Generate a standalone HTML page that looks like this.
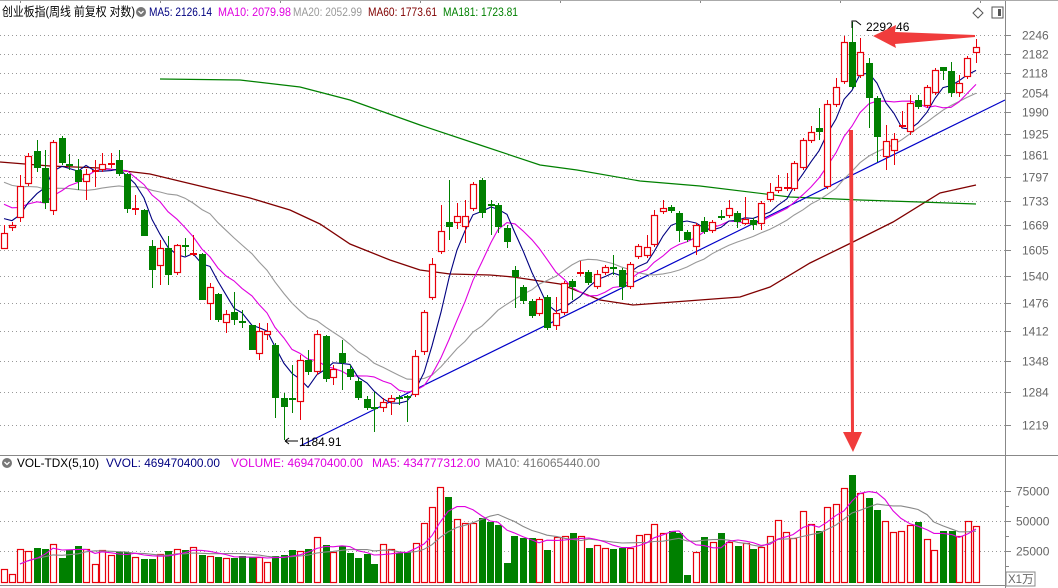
<!DOCTYPE html>
<html><head><meta charset="utf-8">
<style>
html,body{margin:0;padding:0;background:#fff;}
svg{display:block;font-family:"Liberation Sans","Noto Sans CJK SC",sans-serif;}
</style></head>
<body>
<svg id="c" width="1058" height="588" viewBox="0 0 1058 588" xmlns="http://www.w3.org/2000/svg">
<rect width="1058" height="588" fill="#fff"/>
<g id="grid"></g>
<g id="ma"></g>
<g id="candles"></g>
<g id="vol"></g>
<!-- frame -->
<line x1="1005.5" y1="0" x2="1005.5" y2="588" stroke="#888"/>
<line x1="0" y1="455.5" x2="1058" y2="455.5" stroke="#888"/>
<line x1="0" y1="585.5" x2="1005" y2="585.5" stroke="#888"/>
<line x1="0" y1="0.5" x2="1058" y2="0.5" stroke="#aaa"/>
<!-- header -->
<text x="2" y="16" font-size="12.5" fill="#000" textLength="133" lengthAdjust="spacingAndGlyphs">创业板指(周线 前复权 对数)</text>
<circle cx="141" cy="12" r="5" fill="#777"/>
<path d="M138.5 11 L141 13.5 L143.5 11" stroke="#fff" stroke-width="1.3" fill="none"/>
<text x="149" y="16" font-size="12" fill="#000080" textLength="63" lengthAdjust="spacingAndGlyphs">MA5: 2126.14</text>
<text x="218" y="16" font-size="12" fill="#e000e0" textLength="73" lengthAdjust="spacingAndGlyphs">MA10: 2079.98</text>
<text x="293" y="16" font-size="12" fill="#999" textLength="69" lengthAdjust="spacingAndGlyphs">MA20: 2052.99</text>
<text x="368" y="16" font-size="12" fill="#800000" textLength="69" lengthAdjust="spacingAndGlyphs">MA60: 1773.61</text>
<text x="443" y="16" font-size="12" fill="#008000" textLength="75" lengthAdjust="spacingAndGlyphs">MA181: 1723.81</text>
<path d="M978 8 L983 13 L978 18 L973 13 Z" fill="none" stroke="#555"/>
<rect x="992" y="7" width="11" height="11" fill="none" stroke="#555"/>
<rect x="998" y="9" width="3" height="7" fill="#555"/>
<!-- vol header -->
<circle cx="7" cy="463" r="5" fill="#777"/>
<path d="M4.5 462 L7 464.5 L9.5 462" stroke="#fff" stroke-width="1.3" fill="none"/>
<text x="17" y="467" font-size="12" fill="#000" textLength="82" lengthAdjust="spacingAndGlyphs">VOL-TDX(5,10)</text>
<text x="106" y="467" font-size="12" fill="#000080" textLength="114" lengthAdjust="spacingAndGlyphs">VVOL: 469470400.00</text>
<text x="231" y="467" font-size="12" fill="#e000e0" textLength="132" lengthAdjust="spacingAndGlyphs">VOLUME: 469470400.00</text>
<text x="372" y="467" font-size="12" fill="#e000e0" textLength="108" lengthAdjust="spacingAndGlyphs">MA5: 434777312.00</text>
<text x="485" y="467" font-size="12" fill="#777" textLength="115" lengthAdjust="spacingAndGlyphs">MA10: 416065440.00</text>
<rect x="1006" y="572" width="29" height="14" fill="#fff" stroke="#888"/>
<text x="1008" y="583" font-size="11.5" fill="#666">X1万</text>
<!-- annotations -->
<path d="M852 28 L852 21 L856 21 L861 25" stroke="#000" fill="none"/>
<text x="866" y="31" font-size="12" fill="#000">2292.46</text>
<path d="M285 441 L298 441 M285 441 L289 438 M285 441 L289 444" stroke="#000" fill="none"/>
<text x="299" y="446" font-size="12" fill="#000">1184.91</text>
<!-- arrows -->
<path d="M873 36 L896 25 L895 32 L975 35 L975 37 L895 44 L896 48 Z" fill="#f03c3c"/>
<path d="M849 130 L853 130 L854 432 L862 432 L853 452 L843 432 L851 432 Z" fill="#f03c3c"/>
</svg>
<script>
(function(){
var NS="http://www.w3.org/2000/svg";
function el(p,t,a){var e=document.createElementNS(NS,t);for(var k in a)e.setAttribute(k,a[k]);p.appendChild(e);return e;}
var grid=document.getElementById('grid'),ma=document.getElementById('ma'),cg=document.getElementById('candles'),vg=document.getElementById('vol');
var lv=[[2246,34.7],[2182,54],[2118,73],[2054,92.7],[1990,112],[1925,133.7],[1861,155],[1797,177],[1733,200.7],[1669,225],[1605,250],[1540,276],[1476,303],[1412,331],[1348,361],[1284,392],[1219,425]];
lv.forEach(function(l){var y=Math.round(l[1])+0.5;
 el(grid,'line',{x1:0,y1:y,x2:1005,y2:y,stroke:'#999','stroke-dasharray':'1,3'});
 el(grid,'line',{x1:1005,y1:y,x2:1011,y2:y,stroke:'#888'});
 var t=el(grid,'text',{x:1022,y:y+4,'font-size':12,fill:'#666'});t.textContent=l[0];});
[[491,'75000'],[521,'50000'],[551,'25000']].forEach(function(l){var y=l[0]+0.5;
 el(grid,'line',{x1:0,y1:y,x2:1005,y2:y,stroke:'#999','stroke-dasharray':'1,3'});
 el(grid,'line',{x1:1005,y1:y,x2:1011,y2:y,stroke:'#888'});
 var t=el(grid,'text',{x:1016,y:y+4,'font-size':12,fill:'#666'});t.textContent=l[1];});
[506,536,566].forEach(function(y){el(grid,'line',{x1:1005,y1:y+.5,x2:1009,y2:y+.5,stroke:'#888'});});
[20,160,280,420,560,700,840,980].forEach(function(x){el(grid,'line',{x1:x+.5,y1:0,x2:x+.5,y2:3,stroke:'#888'});});
var C=[
[4,'r',233,249,225,249],[12,'r',225,228,222,231],[20,'r',186,218,175,222],[28,'r',156,184,153,186],[37,'g',151,168,140,172],[45,'g',168,203,150,209],[53,'r',142,211,140,215],[62,'g',138,163,136,165],[69,'g',164,166,154,170],[78,'g',170,182,159,190],[86,'r',174,182,169,200],[95,'r',170,172,160,187],[102,'r',164,170,153,172],[111,'r',163,165,153,168],[119,'g',160,174,150,176],[127,'g',174,209,173,213],[135,'r',208,210,195,215],[144,'g',210,236,209,236],[152,'g',246,270,240,288],[160,'r',248,266,240,285],[168,'g',248,275,236,285],[177,'r',245,273,244,275],[185,'g',245,247,238,256],[193,'r',253,255,235,256],[202,'g',254,300,253,300],[210,'r',287,304,283,320],[218,'g',294,320,293,322],[226,'r',314,323,310,333],[234,'g',312,320,292,325],[242,'g',321,323,310,328],[252,'g',325,350,325,350],[259,'r',331,354,323,360],[267,'r',331,335,323,340],[275,'g',345,398,343,418],[284,'g',398,407,393,440],[292,'g',398,400,365,413],[300,'r',360,402,355,420],[308,'g',360,372,350,375],[317,'r',334,372,330,375],[326,'g',336,379,335,382],[333,'r',369,378,365,385],[342,'g',353,363,340,390],[350,'g',369,377,365,380],[358,'g',381,398,378,400],[367,'g',399,408,396,410],[374,'g',407,409,392,432],[383,'r',402,408,398,412],[391,'r',398,402,395,415],[399,'g',397,399,395,405],[407,'g',396,398,395,422],[415,'r',356,395,350,397],[424,'r',312,352,310,355],[432,'r',264,298,258,300],[441,'r',231,252,205,254],[449,'g',222,227,180,240],[457,'r',216,223,203,229],[465,'r',216,227,200,243],[473,'r',184,209,182,211],[482,'g',180,213,178,218],[491,'g',204,206,200,235],[498,'g',205,227,203,233],[507,'g',228,242,225,248],[515,'g',270,277,266,308],[523,'g',287,301,285,304],[532,'g',301,316,299,318],[539,'r',299,314,297,316],[547,'g',297,328,295,330],[556,'r',313,326,297,330],[564,'r',283,313,281,315],[572,'g',281,287,279,300],[580,'r',272,274,261,276],[588,'g',272,283,270,285],[597,'r',274,287,270,289],[605,'r',267,273,265,275],[613,'g',267,269,255,275],[622,'g',270,287,268,300],[630,'r',264,287,262,289],[638,'r',246,257,244,259],[647,'r',247,256,235,258],[654,'r',215,245,210,247],[663,'r',208,212,200,214],[671,'g',207,211,205,213],[679,'g',213,231,211,242],[687,'g',232,240,230,242],[696,'r',225,247,223,255],[704,'g',221,232,217,234],[712,'r',222,231,220,233],[721,'g',216,218,210,220],[729,'r',208,216,200,218],[737,'g',213,222,211,228],[745,'r',219,224,197,225],[753,'g',220,225,218,230],[761,'r',203,224,201,230],[770,'r',192,200,183,202],[778,'r',187,191,175,193],[787,'r',187,189,173,191],[794,'r',163,189,161,191],[803,'r',140,168,138,170],[811,'r',132,141,126,143],[819,'g',128,132,108,140],[827,'r',104,187,100,189],[836,'r',87,105,78,107],[844,'r',42,82,36,84],[852,'g',42,87,22,89],[860,'r',52,76,38,78],[869,'g',63,98,58,128],[877,'g',98,137,96,162],[886,'r',141,157,125,170],[894,'r',139,151,133,165],[902,'r',125,127,111,128],[910,'r',103,132,95,135],[918,'g',100,107,95,109],[927,'r',87,106,85,108],[935,'r',70,93,68,95],[943,'g',67,71,67,80],[951,'g',71,93,62,97],[959,'r',83,93,75,97],[967,'r',58,77,56,79],[976,'r',47,53,39,63]];
var RED='#e8000b',GRN='#008000';
function pl(pts,col,w){el(ma,'polyline',{points:pts.map(function(p){return p.join(',')}).join(' '),fill:'none',stroke:col,'stroke-width':w||1.2});}
pl([[0,162],[50,166],[100,168],[150,174],[200,186],[250,198],[290,210],[320,224],[350,244],[390,260],[420,270],[450,274],[490,275],[513,277],[560,284],[600,300],[633,305],[660,303],[700,300],[740,297],[770,287],[810,263],[853,242],[893,222],[940,193],[976,185]],'#800000',1.3);
pl([[160,79],[240,80],[300,87],[350,100],[420,125],[480,145],[540,165],[577,170],[640,181],[700,186],[790,197],[860,200],[920,202],[976,204]],'#008000',1.2);
el(ma,'line',{x1:300,y1:446,x2:1005,y2:100,stroke:'#0000c8','stroke-width':1.2});
var cl=C.map(function(c){return c[1]=='r'?c[2]:c[3];});
var seed=[160,160,160,160,160,160,160,160,160,160,190,190,190,190,190,215,215,215,215];
var all=seed.concat(cl),off=seed.length;
function maLine(n,col,w){var pts=[];for(var i=0;i<C.length;i++){var s=0;for(var k=0;k<n;k++)s+=all[off+i-k];pts.push([C[i][0],(s/n).toFixed(1)]);}pl(pts,col,w);}
maLine(20,'#999',1.1);maLine(10,'#e000e0',1.1);maLine(5,'#000080',1.1);
C.forEach(function(c){var x=c[0],col=c[1]=='r'?RED:GRN;
 el(cg,'line',{x1:x+.5,y1:c[4],x2:x+.5,y2:c[5],stroke:col,'stroke-width':1});
 var h=Math.max(1,c[3]-c[2]);
 if(c[1]=='r'){ if(h<=2) el(cg,'rect',{x:x-3,y:c[2],width:7,height:2,fill:col});
   else el(cg,'rect',{x:x-2.5,y:c[2]+.5,width:6,height:h-1,fill:'#fff',stroke:col,'stroke-width':1.2});}
 else el(cg,'rect',{x:x-3,y:c[2],width:7,height:Math.max(2,h),fill:col});
});
var V=[[4,'r',569],[12,'r',574],[20,'r',549],[28,'r',551],[37,'g',548],[45,'g',549],[53,'r',544],[62,'g',558],[69,'g',550],[78,'g',546],[86,'r',549],[95,'r',564],[102,'r',550],[111,'r',555],[119,'g',552],[127,'g',552],[135,'r',557],[144,'g',559],[152,'g',559],[160,'r',554],[168,'g',551],[177,'r',549],[185,'g',550],[193,'r',547],[202,'g',555],[210,'r',556],[218,'g',557],[226,'r',558],[234,'g',558],[242,'g',556],[252,'g',557],[259,'r',557],[267,'r',562],[275,'g',556],[284,'g',555],[292,'g',550],[300,'r',551],[308,'g',549],[317,'r',537],[326,'g',545],[333,'r',552],[342,'g',546],[350,'g',553],[358,'g',558],[367,'g',554],[374,'g',564],
[383,'r',544],[391,'r',549],[399,'g',553],[407,'g',552],[416,'r',543],[424,'r',523],[432,'r',507],[440,'r',487],[448,'g',497],[457,'r',519],[465,'r',523],[473,'r',523],[482,'g',518],[490,'g',522],[498,'g',525],[507,'g',563],[514,'g',536],[523,'g',538],[532,'g',538],[539,'r',539],[547,'g',550],[557,'r',537],[565,'r',536],[573,'g',533],[581,'r',536],[589,'g',548],[597,'r',545],[605,'r',548],[613,'g',549],[622,'g',548],[630,'r',548],[639,'r',535],[647,'r',534],[654,'r',524],[663,'r',533],[672,'g',531],[679,'g',533],[687,'g',575],[696,'r',552],[704,'g',537],[713,'r',542],[721,'g',533],[729,'r',542],[738,'g',546],[746,'r',543],
[753,'g',549],[761,'r',547],[770,'r',536],[778,'r',520],[786,'r',532],[793,'r',538],[803,'r',511],[811,'r',524],[819,'g',531],[827,'r',507],[836,'r',504],[844,'r',488],[852,'g',475],[860,'r',493],[869,'g',498],[877,'g',510],[885,'r',521],[893,'r',532],[901,'r',531],[910,'r',525],[918,'g',522],[927,'r',539],[934,'r',550],[943,'g',531],[952,'g',531],[959,'r',536],[968,'r',521],[976,'r',526]];
var B=583;
V.forEach(function(v){var x=v[0],h=B-v[2];
 if(v[1]=='r') el(vg,'rect',{x:x-2.5,y:v[2]+.5,width:6,height:h-1,fill:'#fff',stroke:RED,'stroke-width':1.2});
 else el(vg,'rect',{x:x-3,y:v[2],width:7,height:h,fill:GRN});});
function vma(n,col){var pts=[];for(var i=0;i<V.length;i++){var s=0,m=0;for(var k=0;k<n&&i-k>=0;k++){s+=B-V[i-k][2];m++;}
 if(i<2)continue; pts.push([V[i][0],(B-s/m).toFixed(1)]);}
 el(vg,'polyline',{points:pts.map(function(p){return p.join(',')}).join(' '),fill:'none',stroke:col,'stroke-width':1.1});}
vma(10,'#888');vma(5,'#e000e0');
})();
</script>
</body></html>
